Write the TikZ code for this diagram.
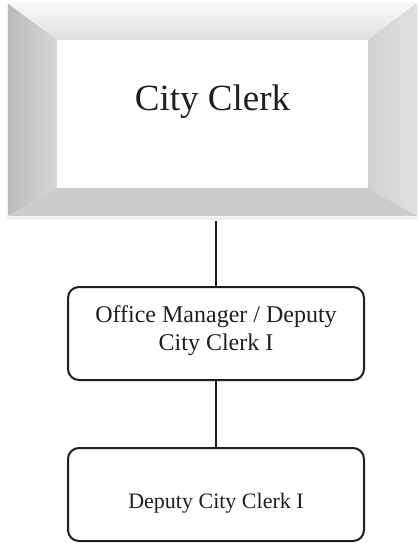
\documentclass[tikz,border=0pt]{standalone}
\usepackage{fontspec}
\setmainfont{Liberation Serif}
\begin{document}
\begin{tikzpicture}[x=1pt,y=-1pt,
  orgbox/.style={draw=black!88, line width=2pt, rounded corners=11pt,
    fill=white, minimum width=296pt, inner sep=0pt},
  orgtext/.style={text=black!88, inner sep=0pt, align=center, anchor=base},
  link/.style={draw=black!90, line width=2pt}]
\useasboundingbox (0,0) rectangle (419,543);
\fill[white] (0,0) rectangle (419,543);

% bevelled frame of the top position
\node[minimum width=410pt, minimum height=215pt, inner sep=0pt] (clerk) at (212,110.5) {};
\fill[black!6] (6,213) rectangle (418,220);
\shade[top color=black!2, bottom color=black!13]
  (clerk.north west) -- (clerk.north east) -- (368,40) -- (57,40) -- cycle;
\shade[left color=black!27, right color=black!16]
  (clerk.north west) -- (57,40) -- (57,188) -- (7,216) -- cycle;
\shade[left color=black!18, right color=black!12]
  (clerk.north east) -- (417,216) -- (368,188) -- (368,40) -- cycle;
\fill[black!20] (7,216) -- (417,216) -- (368,188) -- (57,188) -- cycle;
\draw[black!5, line width=1pt] (7,216.5) -- (417,216.5);
\draw[black!4, line width=0.8pt] (7,3) rectangle (417,216);
\fill[white] (57,40) rectangle (368,188);
\node[orgtext, font=\fontsize{37}{44}\selectfont] (clerktext) at (212.5,110) {City Clerk};

% subordinate positions
\node[orgbox, minimum height=93pt] (mgr) at (216,333.5) {};
\node[orgtext, font=\fontsize{24}{28}\selectfont] (mgrtext) at (216,350)
  {Office Manager / Deputy\\City Clerk I};
\node[orgbox, minimum height=93pt] (dep) at (216,494.5) {};
\node[orgtext, font=\fontsize{22}{26}\selectfont] (deptext) at (216,508)
  {Deputy City Clerk I};

% reporting lines
\draw[link] ([xshift=4pt,yshift=-3pt]clerk.south) -- (mgr.north);
\draw[link] (mgr.south) -- (dep.north);
\end{tikzpicture}
\end{document}
